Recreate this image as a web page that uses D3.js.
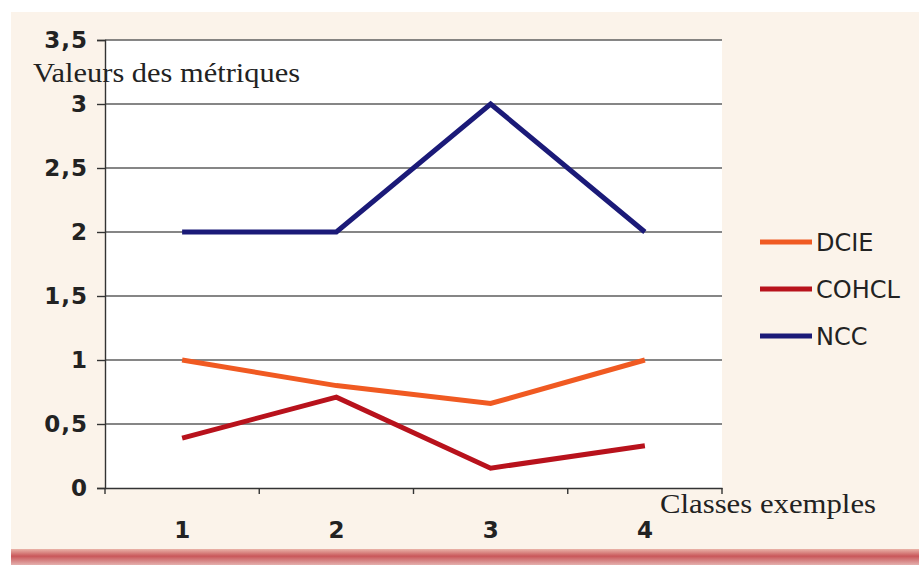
<!DOCTYPE html>
<html>
<head>
<meta charset="utf-8">
<script src="https://cdn.jsdelivr.net/npm/d3@7"></script>
<style>
  html, body { margin: 0; padding: 0; background: #ffffff; }
  svg { display: block; }
</style>
</head>
<body>
<svg id="chart" width="919" height="565"></svg>
<script>
// Metric values per example class
const classes = ["1", "2", "3", "4"];
const dcie   = [1.0, 0.8, 0.66, 1.0];
const cohcl  = [0.39, 0.71, 0.155, 0.33];
const ncc    = [2, 2, 3, 2];
const seriesNames  = ["DCIE", "COHCL", "NCC"];
const seriesColors = ["#f05a22", "#b8121c", "#1b1a78"];
const yTicks = [0, 0.5, 1, 1.5, 2, 2.5, 3, 3.5];

const series = [dcie, cohcl, ncc].map((vals, i) => ({
  name: seriesNames[i], color: seriesColors[i], values: vals
}));

const svg = d3.select("#chart");
const W = 919, H = 565;
const plot = { left: 105, right: 722, top: 40, bottom: 488 };

// Page background: beige panel with a reddish band at the foot
const defs = svg.append("defs");
const grad = defs.append("linearGradient").attr("id", "foot").attr("x1", 0).attr("y1", 0).attr("x2", 0).attr("y2", 1);
grad.append("stop").attr("offset", "0%").attr("stop-color", "#e9b3a8");
grad.append("stop").attr("offset", "45%").attr("stop-color", "#c9575a");
grad.append("stop").attr("offset", "100%").attr("stop-color", "#e4b0ad");

svg.append("rect").attr("x", 0).attr("y", 0).attr("width", W).attr("height", H).attr("fill", "#ffffff");
svg.append("rect").attr("x", 11).attr("y", 12).attr("width", W - 11).attr("height", 537).attr("fill", "#fbf3ea");
svg.append("rect").attr("x", 11).attr("y", 549).attr("width", W - 11).attr("height", 16).attr("fill", "url(#foot)");

// Plot area
svg.append("rect")
  .attr("x", plot.left).attr("y", plot.top)
  .attr("width", plot.right - plot.left).attr("height", plot.bottom - plot.top)
  .attr("fill", "#ffffff");

const x = d3.scaleBand().domain(classes).range([plot.left, plot.right]).padding(0);
const y = d3.scaleLinear().domain([0, 3.5]).range([plot.bottom, plot.top]);
const fmt = d => d3.format("")(d).replace(".", ",");

// Horizontal gridlines
svg.append("g")
  .selectAll("line")
  .data(yTicks.filter(t => t > 0))
  .join("line")
  .attr("x1", plot.left).attr("x2", plot.right)
  .attr("y1", d => y(d)).attr("y2", d => y(d))
  .attr("stroke", "#5e5e5e").attr("stroke-width", 1.4);

// Y axis
const yAxis = svg.append("g")
  .attr("transform", `translate(${plot.left},0)`)
  .call(d3.axisLeft(y).tickValues(yTicks).tickFormat(fmt).tickSize(8).tickPadding(9));
yAxis.select(".domain").attr("stroke", "#333").attr("stroke-width", 1.4);
yAxis.selectAll(".tick line").attr("stroke", "#333").attr("stroke-width", 1.4);
yAxis.selectAll("text")
  .attr("font-family", "'DejaVu Sans', Verdana, sans-serif")
  .attr("font-weight", "bold").attr("font-size", 23).attr("fill", "#222")
  .attr("letter-spacing", 1);

// X axis: ticks on category boundaries, labels centred in bands
const xAxis = svg.append("g")
  .attr("transform", `translate(0,${plot.bottom})`)
  .call(d3.axisBottom(x).tickSize(0).tickPadding(34));
xAxis.select(".domain").attr("stroke", "#333").attr("stroke-width", 1.4);
xAxis.selectAll("text")
  .attr("font-family", "'DejaVu Sans', Verdana, sans-serif")
  .attr("font-weight", "bold").attr("font-size", 23).attr("fill", "#222");
const bounds = classes.map(c => x(c)).concat([x(classes[classes.length - 1]) + x.bandwidth()]);
svg.append("g").selectAll("line").data(bounds).join("line")
  .attr("x1", d => d).attr("x2", d => d)
  .attr("y1", plot.bottom).attr("y2", plot.bottom + 6)
  .attr("stroke", "#333").attr("stroke-width", 1.4);

// Series lines
const line = d3.line()
  .x((d, i) => x(classes[i]) + x.bandwidth() / 2)
  .y(d => y(d));
svg.append("g").selectAll("path").data(series).join("path")
  .attr("d", d => line(d.values))
  .attr("fill", "none")
  .attr("stroke", d => d.color)
  .attr("stroke-width", 5)
  .attr("stroke-linejoin", "miter");

// Axis titles
svg.append("text").attr("x", 33).attr("y", 82)
  .attr("font-family", "'Liberation Serif', 'Times New Roman', serif")
  .attr("font-size", 27).attr("fill", "#222")
  .attr("textLength", 267).attr("lengthAdjust", "spacingAndGlyphs")
  .text("Valeurs des métriques");
svg.append("text").attr("x", 660).attr("y", 513)
  .attr("font-family", "'Liberation Serif', 'Times New Roman', serif")
  .attr("font-size", 27).attr("fill", "#222")
  .attr("textLength", 216).attr("lengthAdjust", "spacingAndGlyphs")
  .text("Classes exemples");

// Legend
const legend = svg.append("g").attr("transform", "translate(760,242)");
const item = legend.selectAll("g").data(series).join("g")
  .attr("transform", (d, i) => `translate(0,${i * 47})`);
item.append("line").attr("x1", 0).attr("x2", 52).attr("y1", 0).attr("y2", 0)
  .attr("stroke", d => d.color).attr("stroke-width", 5);
item.append("text").attr("x", 56).attr("y", 0).attr("dy", "0.36em")
  .attr("font-family", "'DejaVu Sans', Verdana, sans-serif")
  .attr("font-size", 24).attr("fill", "#222")
  .text(d => d.name);
</script>
</body>
</html>
